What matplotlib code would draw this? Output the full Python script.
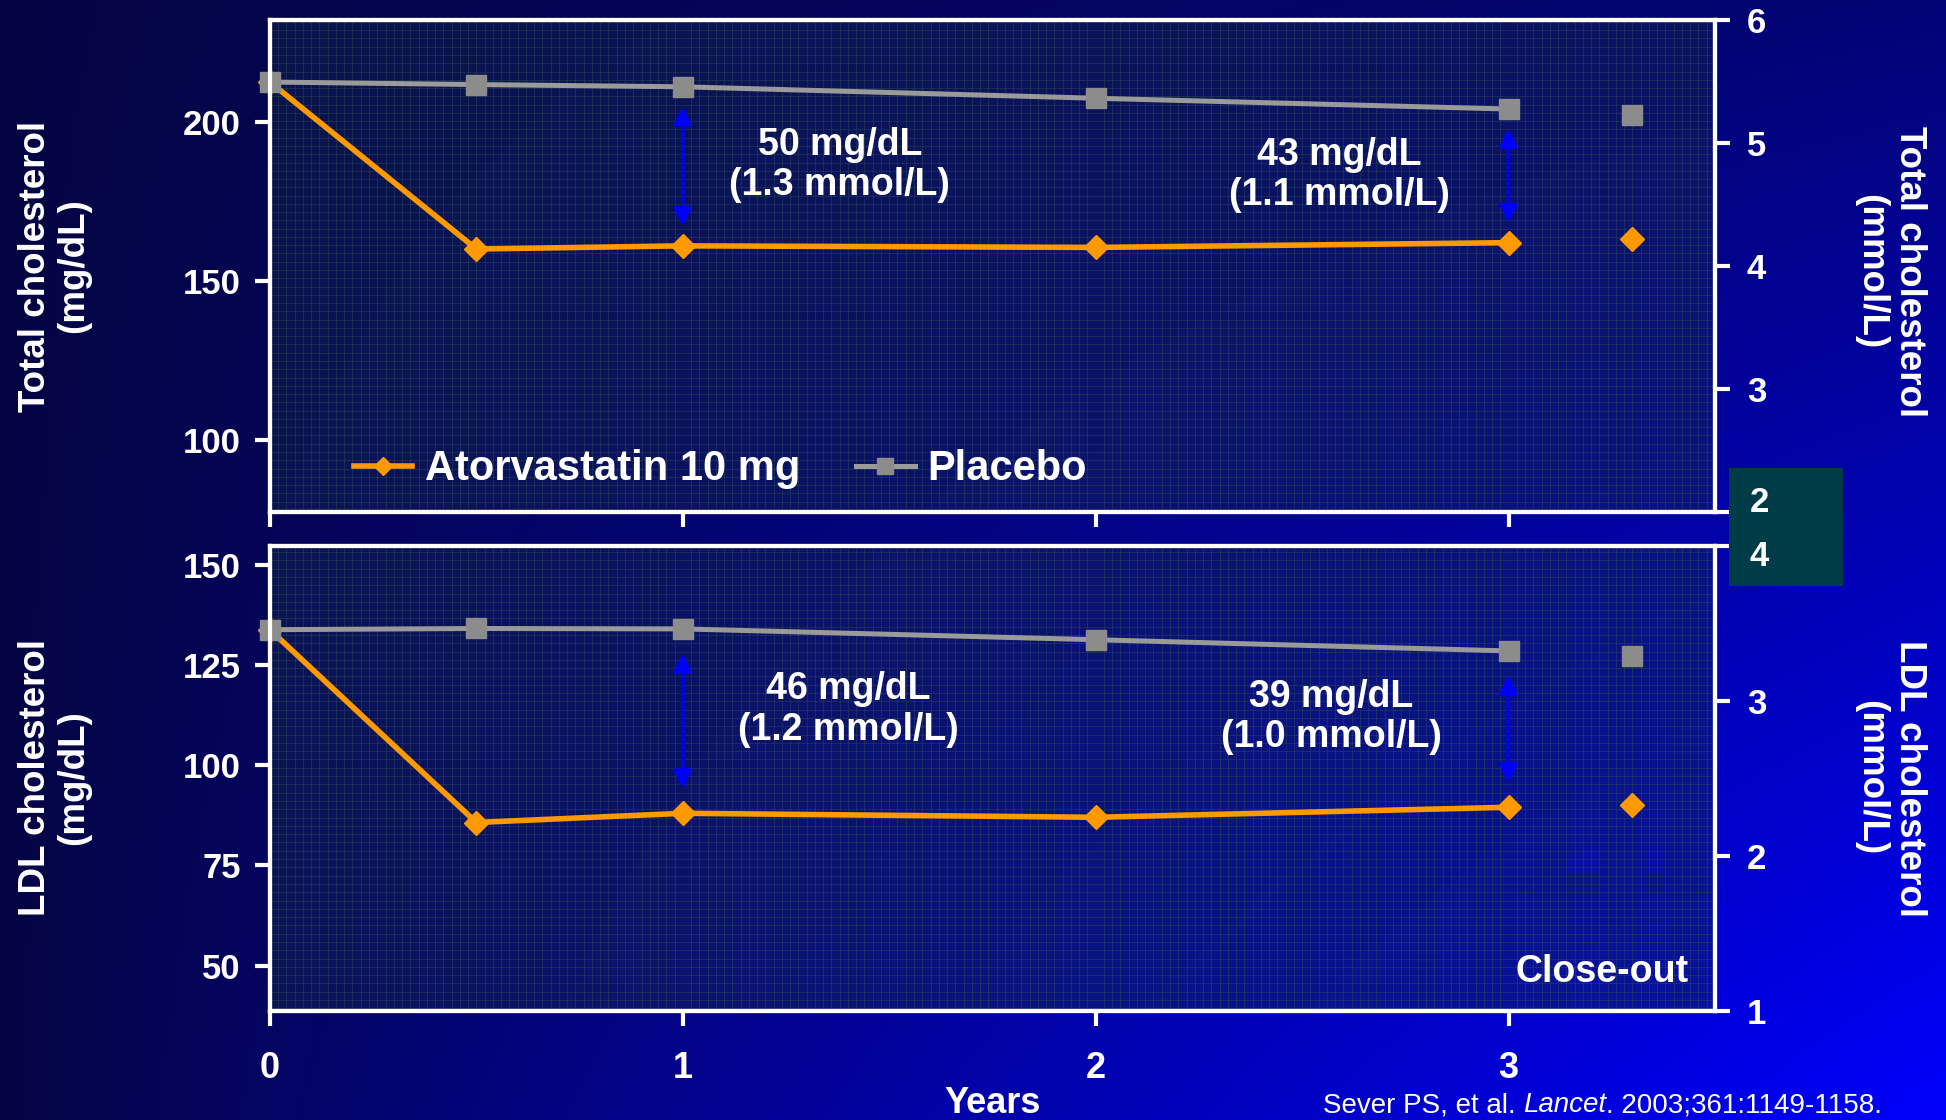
import matplotlib.pyplot as plt
import numpy as np
from matplotlib.patches import Rectangle
from matplotlib.ticker import MultipleLocator

plt.rcParams['font.family'] = ['Liberation Sans', 'DejaVu Sans']
plt.rcParams['font.weight'] = 'bold'

MMOL = 38.67  # mg/dL per mmol/L of cholesterol

years = [0, 0.5, 1, 2, 3]
closeout_year = 3.3

# total cholesterol, mg/dL
tc_atorva = [212.5, 160.0, 161.0, 160.5, 162.0]
tc_placebo = [212.5, 211.7, 211.0, 207.4, 204.0]
tc_closeout = {'atorva': 163.0, 'placebo': 202.0}
tc_gap_years = [1, 3]
tc_gap_labels = ['50 mg/dL\n(1.3 mmol/L)', '43 mg/dL\n(1.1 mmol/L)']

# LDL cholesterol, mg/dL
ldl_atorva = [133.8, 85.7, 88.0, 87.0, 89.5]
ldl_placebo = [133.8, 134.1, 134.0, 131.3, 128.5]
ldl_closeout = {'atorva': 90.0, 'placebo': 127.3}
ldl_gap_years = [1, 3]
ldl_gap_labels = ['46 mg/dL\n(1.2 mmol/L)', '39 mg/dL\n(1.0 mmol/L)']

ORANGE = '#ff9900'
GREY = '#9a9a9a'
WHITE = 'white'

fig = plt.figure(figsize=(19.46, 11.2), dpi=100)

# slide background: dark navy top-left to bright blue bottom-right
bg = fig.add_axes([0, 0, 1, 1], zorder=-10)
gx, gy = np.meshgrid(np.linspace(0, 1, 400), np.linspace(0, 1, 240))
s = np.clip(gx ** 0.85 * (0.28 + 0.72 * gy), 0, 1)
img = np.zeros(gx.shape + (3,))
img[..., 0] = (5 - 5 * s) / 255
img[..., 1] = (5 - 5 * s) / 255
img[..., 2] = (66 + 186 * s) / 255
bg.imshow(img, extent=[0, 1, 0, 1], aspect='auto', origin='upper')
bg.set_axis_off()


def style_panel(ax, ylim_mmol, left_ticks, right_ticks, right_labels, grid_step):
    ax.set_facecolor((0.08, 0.16, 0.30, 0.42))
    ax.set_xlim(0, 3.5)
    ax.set_ylim(ylim_mmol[0] * MMOL, ylim_mmol[1] * MMOL)
    ax.set_xticks([0, 1, 2, 3])
    ax.set_yticks(left_ticks)
    ax.xaxis.set_minor_locator(MultipleLocator(0.02))
    ax.yaxis.set_minor_locator(MultipleLocator(grid_step))
    ax.grid(which='minor', color='#2c4a50', lw=0.6, alpha=0.55)
    ax.tick_params(which='minor', length=0)
    ax.tick_params(which='major', colors=WHITE, width=3, length=11,
                   labelsize=25, pad=10)
    for sp in ax.spines.values():
        sp.set_color(WHITE)
        sp.set_linewidth(3)
    ax.set_axisbelow(True)

    ax2 = ax.twinx()
    ax2.set_ylim(*ylim_mmol)
    ax2.set_yticks(right_ticks)
    ax2.set_yticklabels(right_labels)
    ax2.tick_params(colors=WHITE, width=3, length=11, labelsize=25, pad=12)
    for sp in ax2.spines.values():
        sp.set_color(WHITE)
        sp.set_linewidth(3)
    return ax2


def draw_series(ax, atorva, placebo, closeout, gap_years, gap_labels, label_pos, gap):
    ax.plot(years, atorva, color=ORANGE, lw=4, marker='D', ms=12,
            mec=ORANGE, mfc=ORANGE, zorder=4, clip_on=False,
            label='Atorvastatin 10 mg')
    ax.plot(years, placebo, color=GREY, lw=3.6, marker='s', ms=15,
            mec='#8c8c8c', mfc='#8c8c8c', zorder=5, clip_on=False,
            label='Placebo')
    ax.plot([closeout_year], [closeout['atorva']], 'D', ms=12, color=ORANGE, zorder=4)
    ax.plot([closeout_year], [closeout['placebo']], 's', ms=15, color='#8c8c8c', zorder=5)
    for yr, text, (tx, ty) in zip(gap_years, gap_labels, label_pos):
        i = years.index(yr)
        ax.annotate('', xy=(yr, atorva[i] + gap), xytext=(yr, placebo[i] - gap),
                    arrowprops=dict(arrowstyle='<|-|>', color='#0000ff', lw=2.5,
                                    mutation_scale=26, shrinkA=0, shrinkB=0),
                    zorder=6)
        ax.text(tx, ty, text, color=WHITE, fontsize=27, ha='center',
                va='center', linespacing=1.15, zorder=6)


ax_tc = fig.add_axes([0.1387, 0.5429, 0.7426, 0.4393])
ax_tc2 = style_panel(ax_tc, (2, 6), [100, 150, 200], [2, 3, 4, 5, 6],
                     ['', '3', '4', '5', '6'], 2.6)
ax_tc.tick_params(axis='x', labelbottom=False)
draw_series(ax_tc, tc_atorva, tc_placebo, tc_closeout, tc_gap_years,
            tc_gap_labels, [(1.38, 186.4), (2.59, 183.3)], 6.2)
ax_tc.legend(loc='center left', bbox_to_anchor=(0.058, 0.087), ncol=2,
             frameon=False, fontsize=30, labelcolor=WHITE, handlelength=1.4,
             handletextpad=0.3, columnspacing=1.35, borderpad=0,
             borderaxespad=0, markerscale=0.75)

ax_ldl = fig.add_axes([0.1387, 0.0973, 0.7426, 0.4152])
ax_ldl2 = style_panel(ax_ldl, (1, 4), [50, 75, 100, 125, 150], [1, 2, 3, 4],
                      ['1', '2', '3', ''], 2.07)
ax_ldl.tick_params(axis='x', labelsize=26, pad=18)
draw_series(ax_ldl, ldl_atorva, ldl_placebo, ldl_closeout, ldl_gap_years,
            ldl_gap_labels, [(1.40, 113.9), (2.57, 112.0)], 6.2)
ax_ldl.text(3.435, 46, 'Close-out', color=WHITE, fontsize=27, ha='right',
            va='baseline')

# axis titles
lab = dict(color=WHITE, fontsize=26.5, ha='center', va='center',
           multialignment='center', linespacing=1.12)
fig.text(55 / 1946, 1 - 266 / 1120, 'Total cholesterol\n(mg/dL)', rotation=90, **lab)
fig.text(55 / 1946, 1 - 778 / 1120, 'LDL cholesterol\n(mg/dL)', rotation=90, **lab)
fig.text(1890 / 1946, 1 - 272 / 1120, 'Total cholesterol\n(mmol/L)', rotation=270, **lab)
fig.text(1890 / 1946, 1 - 778 / 1120, 'LDL cholesterol\n(mmol/L)', rotation=270, **lab)
fig.text(993 / 1946, 1 - 1113 / 1120, 'Years', color=WHITE, fontsize=26,
         ha='center', va='baseline')

# teal label box over the right axis join
fig.add_artist(Rectangle((1729 / 1946, 1 - 586 / 1120), 114 / 1946, 118 / 1120,
                         transform=fig.transFigure, facecolor='#003c48',
                         edgecolor='none', zorder=5))
fig.text(1759 / 1946, 1 - 502 / 1120, '2', color=WHITE, fontsize=25,
         ha='center', va='center', zorder=6)
fig.text(1759 / 1946, 1 - 557 / 1120, '4', color=WHITE, fontsize=25,
         ha='center', va='center', zorder=6)

# citation, kept just inside the bottom edge
cite = dict(color=WHITE, fontsize=20, fontweight='normal')
t1 = fig.text(1323 / 1946, 2 / 1120, 'Sever PS, et al. ', va='bottom', **cite)
t2 = bg.annotate('Lancet', xy=(1, 0), xycoords=t1, va='bottom', ha='left',
                 style='italic', **cite)
bg.annotate('. 2003;361:1149-1158.', xy=(1, 0), xycoords=t2, va='bottom',
            ha='left', **cite)

fig.savefig('out.png', dpi=100)
